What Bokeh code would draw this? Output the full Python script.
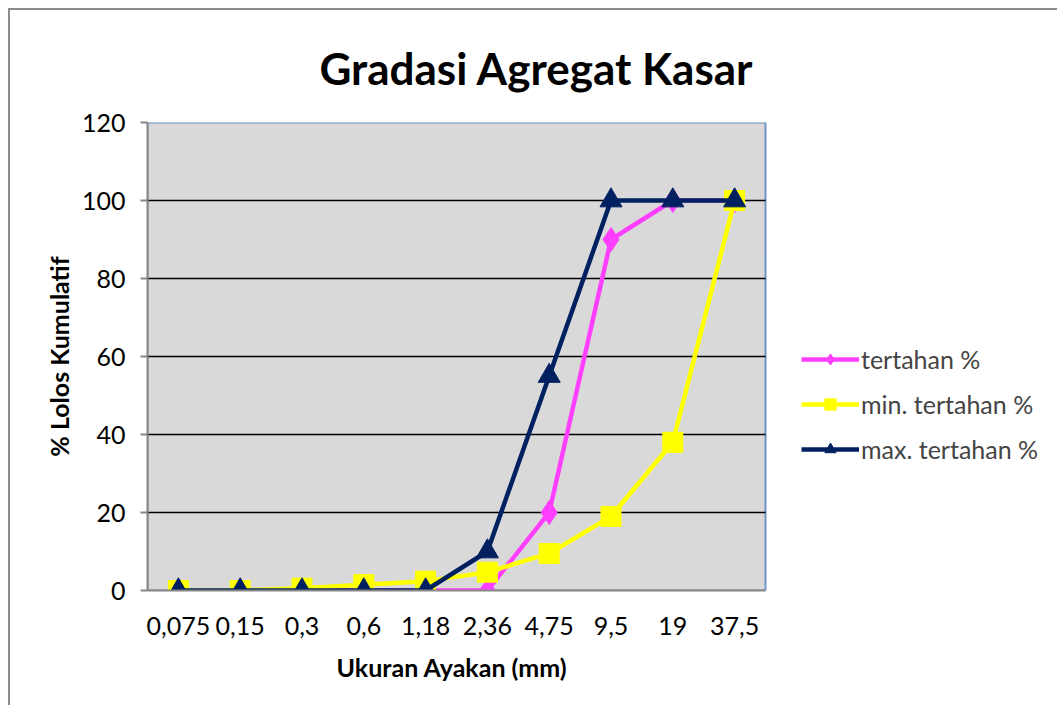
from bokeh.plotting import figure
from bokeh.models import (Legend, LegendItem, Title, SingleIntervalTicker, FixedTicker,
                          Range1d, BoxAnnotation)
from bokeh.embed import file_html
from bokeh.resources import INLINE

sizes = ["0,075", "0,15", "0,3", "0,6", "1,18", "2,36", "4,75", "9,5", "19", "37,5"]
tertahan = [0, 0, 0, 0, 0, 0, 20, 90, 100, 100]
min_tertahan = [0, 0, 0.6, 1.5, 2.4, 4.7, 9.5, 19, 38, 100]
max_tertahan = [0, 0, 0, 0, 0, 10, 55, 100, 100, 100]

FONT = "Lato"

xs = list(range(len(sizes)))
x_lo, x_hi = -0.5, len(sizes) - 0.5
# plot-area width 618 px for the categories; frame extends to the right edge for the legend
frame_px = 1059 - 147
x_end = x_lo + (x_hi - x_lo) * frame_px / 618.0

p = figure(x_range=Range1d(x_lo, x_end), y_range=Range1d(0, 120),
           width=1049, height=697, output_backend="svg", toolbar_location=None,
           min_border_left=137, min_border_right=0, min_border_top=111, min_border_bottom=117)
p.styles = {"margin-left": "8px", "margin-top": "8px",
            "border-left": "2px solid #8c8c8c", "border-top": "2px solid #8c8c8c"}

p.background_fill_color = "white"
p.border_fill_color = "white"
p.outline_line_color = None

area = BoxAnnotation(left=x_lo, right=x_hi, bottom=0, top=120, fill_color="#D9D9D9", fill_alpha=1,
                     line_color="#6F93C7", line_width=2, line_alpha=1, level="image")
p.add_layout(area)

p.xgrid.grid_line_color = None
p.ygrid.grid_line_color = "black"
p.ygrid.grid_line_width = 1.5
p.ygrid.bounds = (0, 110)
p.ygrid.cross_bounds = (x_lo, x_hi)

p.yaxis.ticker = SingleIntervalTicker(interval=20)
p.xaxis.ticker = FixedTicker(ticks=xs)
p.xaxis.major_label_overrides = {i: s for i, s in zip(xs, sizes)}
p.xaxis.bounds = (x_lo, x_hi)
for ax in (p.xaxis[0], p.yaxis[0]):
    ax.axis_line_color = "#868686"
    ax.axis_line_width = 2
    ax.major_label_text_font = FONT
    ax.major_label_text_font_size = "25px"
    ax.major_label_text_color = "black"
    ax.axis_label_text_font = FONT
    ax.axis_label_text_font_style = "bold"
    ax.axis_label_text_font_size = "25px"
    ax.axis_label_text_color = "black"
    ax.minor_tick_line_color = None

p.yaxis.major_tick_line_color = "#868686"
p.yaxis.major_tick_line_width = 2
p.yaxis.major_tick_out = 7
p.yaxis.major_tick_in = 0
p.yaxis.major_label_standoff = 15
p.yaxis.axis_label = "% Lolos Kumulatif"
p.yaxis.axis_label_standoff = 5

p.xaxis.major_tick_line_color = None
p.xaxis.major_label_standoff = 20

spacer = Title(text=" ", text_font_size="6px", standoff=0)
p.add_layout(spacer, "below")
xt = Title(text="Ukuran Ayakan (mm)", align="left", offset=189,
           text_font=FONT, text_font_style="bold", text_font_size="25px", text_color="black",
           standoff=8)
p.add_layout(xt, "below")

t = Title(text="Gradasi Agregat Kasar", align="left", offset=172,
          text_font=FONT, text_font_style="bold", text_font_size="44px", text_color="black",
          standoff=58)
p.add_layout(t, "above")

l1 = p.line(xs, tertahan, line_color="#FF3FFF", line_width=4.5)
m1 = p.scatter(xs, tertahan, marker="diamond", size=24, fill_color="#FF3FFF", line_color="#FF3FFF")
l2 = p.line(xs, min_tertahan, line_color="#FFFF00", line_width=4.5)
m2 = p.scatter(xs, min_tertahan, marker="square", size=20, fill_color="#FFFF00", line_color="#FFFF00")
l3 = p.line(xs, max_tertahan, line_color="#002060", line_width=4.5)
m3 = p.scatter(xs, max_tertahan, marker="triangle", size=22, fill_color="#002060", line_color="#002060")

legend = Legend(items=[
    LegendItem(label="tertahan %", renderers=[l1, m1]),
    LegendItem(label="min. tertahan %", renderers=[l2, m2]),
    LegendItem(label="max. tertahan %", renderers=[l3, m3]),
], location=(654, 126))
legend.background_fill_alpha = 0
legend.border_line_color = None
legend.label_text_font = FONT
legend.label_text_font_size = "25px"
legend.glyph_width = 58
legend.glyph_height = 28
legend.label_height = 28
legend.spacing = 15
legend.label_standoff = 2
legend.padding = 4
legend.margin = 0
p.add_layout(legend, "center")

open("out.html", "w").write(file_html(p, INLINE))
